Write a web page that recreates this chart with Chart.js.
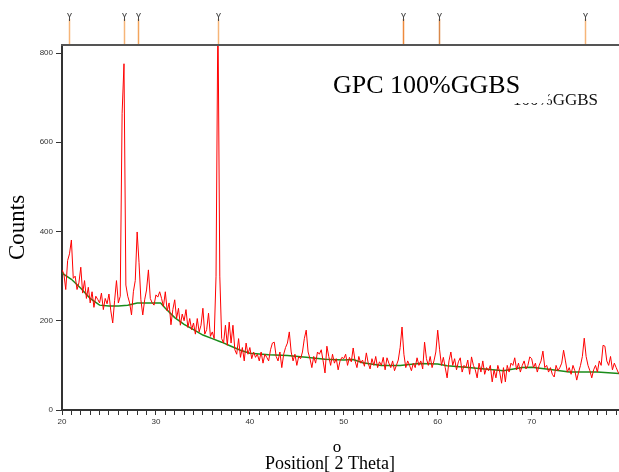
<!DOCTYPE html>
<html>
<head>
<meta charset="utf-8">
<script src="https://cdn.jsdelivr.net/npm/chart.js@4.4.0/dist/chart.umd.min.js"></script>
<style>
html, body { margin: 0; padding: 0; background: #fff; }
#wrap { width: 619px; height: 472px; position: relative; }
</style>
</head>
<body>
<div id="wrap"><canvas id="chart1"></canvas></div>
<script>
// scan grid (2 theta)
var thetaStart = 20;
var thetaStep = 0.2;

// measured counts, one row = 2 degrees
var counts = [
    314, 305, 270, 335, 350, 381, 295, 300, 270, 285,   // 20
    320, 262, 290, 250, 275, 240, 265, 230, 255, 248,   // 22
    240, 262, 225, 250, 238, 260, 222, 195, 245, 290,   // 24
    240, 255, 665, 776, 280, 255, 240, 213, 265, 290,   // 26
    399, 330, 247, 213, 247, 269, 314, 250, 240, 235,   // 28
    258, 253, 265, 250, 232, 265, 222, 240, 191, 225,   // 30
    247, 205, 228, 190, 215, 200, 225, 185, 205, 180,   // 32
    195, 170, 205, 175, 190, 228, 170, 180, 217, 165,   // 34
    175, 160, 300, 900, 300, 160, 150, 190, 145, 197,   // 36
    150, 190, 135, 125, 160, 118, 140, 110, 150, 125,   // 38
    140, 115, 130, 118, 125, 110, 130, 105, 125, 118,   // 40
    110, 135, 150, 152, 120, 110, 130, 95, 125, 140,    // 42
    150, 175, 130, 110, 125, 100, 120, 115, 130, 160,   // 44
    179, 130, 115, 95, 120, 105, 130, 125, 135, 110,    // 46
    83, 143, 120, 100, 125, 105, 115, 90, 110, 118,     // 48
    115, 125, 100, 118, 108, 139, 110, 95, 120, 105,    // 50
    112, 98, 128, 105, 92, 115, 100, 120, 95, 108,      // 52
    100, 118, 90, 117, 105, 95, 110, 88, 100, 112,      // 54
    140, 186, 125, 95, 110, 100, 88, 105, 95, 117,      // 56
    100, 110, 92, 152, 115, 100, 120, 95, 110, 130,     // 58
    179, 135, 100, 118, 95, 72, 110, 130, 100, 115,     // 60
    90, 108, 117, 85, 100, 95, 112, 80, 119, 100,       // 62
    90, 72, 105, 85, 110, 80, 95, 88, 100, 63,          // 64
    90, 72, 100, 85, 60, 95, 63, 100, 85, 105,          // 66
    100, 117, 90, 105, 85, 100, 110, 92, 100, 119,      // 68
    115, 95, 105, 85, 100, 110, 132, 95, 100, 85,       // 70
    95, 80, 74, 100, 88, 95, 105, 134, 110, 85,         // 72
    95, 80, 100, 88, 67, 85, 100, 120, 161, 120,        // 74
    100, 88, 72, 90, 100, 85, 110, 100, 145, 143,       // 76
    110, 100, 120, 90, 105, 95, 85, 78                  // 78
];

// fitted background
var bgPos    = [20, 21, 22, 23, 24, 25, 26, 27, 28, 29, 30.5, 31, 32, 33, 34, 35, 36, 37, 38, 39, 40, 42, 44, 46, 48, 50, 51, 52, 54, 56, 58, 60, 61, 63, 65, 67, 69, 70, 72, 74, 77, 79.3];
var bgCounts = [307, 293, 273, 250, 235, 233, 233, 235, 240, 240, 240, 228, 207, 192, 180, 168, 160, 152, 143, 134, 127, 124, 122, 118, 114, 112, 113, 106, 100, 100, 104, 103, 99, 96, 92, 88, 95, 96, 91, 85, 85, 82];

// reference pattern stick positions
var refPos = [20.75, 26.65, 28.1, 36.6, 56.3, 60.1, 75.7];
var refColors = ['#f6b578', '#f6b578', '#f3a45c', '#f6b578', '#ee8a3c', '#d8884a', '#f6b578'];

var yTicks = [0, 200, 400, 600, 800];

var scanData = counts.map(function(c, i) {
    return { x: thetaStart + i * thetaStep, y: c };
});
var bgData = bgPos.map(function(p, i) {
    return { x: p, y: bgCounts[i] };
});

var extras = {
    id: 'extras',
    afterDraw: function(chart) {
        var ctx = chart.ctx;
        var area = chart.chartArea;
        var xs = chart.scales.x;
        ctx.save();

        // top frame line
        ctx.strokeStyle = '#555';
        ctx.lineWidth = 2;
        ctx.beginPath();
        ctx.moveTo(area.left - 1, area.top);
        ctx.lineTo(area.right, area.top);
        ctx.stroke();

        // reference sticks
        refPos.forEach(function(p, i) {
            var px = Math.round(xs.getPixelForValue(p)) + 0.5;
            ctx.strokeStyle = refColors[i];
            ctx.lineWidth = 1.5;
            ctx.beginPath();
            ctx.moveTo(px, 19);
            ctx.lineTo(px, area.top - 1);
            ctx.stroke();
            ctx.strokeStyle = '#444';
            ctx.lineWidth = 1;
            ctx.beginPath();
            ctx.moveTo(px - 2, 13);
            ctx.lineTo(px, 17);
            ctx.lineTo(px + 2, 13);
            ctx.moveTo(px, 17);
            ctx.lineTo(px, 21);
            ctx.stroke();
        });

        // sample label (with the older one peeking below)
        ctx.fillStyle = '#111';
        ctx.textBaseline = 'alphabetic';
        ctx.textAlign = 'right';
        ctx.font = '17px "Liberation Serif"';
        ctx.fillText('100%GGBS', 598, 105);
        ctx.fillStyle = '#fff';
        ctx.fillRect(330, 60, 218, 43);
        ctx.fillStyle = '#000';
        ctx.textAlign = 'left';
        ctx.font = '26px "Liberation Serif"';
        ctx.fillText('GPC 100%GGBS', 333, 93);

        // x axis title
        ctx.font = '18px "Liberation Serif"';
        ctx.textAlign = 'center';
        var xt = 'Position[ 2 Theta]';
        ctx.fillText(xt, 330, 469);
        var start = 330 - ctx.measureText(xt).width / 2;
        var oX = start + ctx.measureText('Position[ ').width + ctx.measureText('2').width / 2 - 2;
        ctx.font = '17px "Liberation Serif"';
        ctx.fillText('o', oX, 452);
        ctx.restore();
    }
};

var ctx = document.getElementById('chart1').getContext('2d');
var myChart = new Chart(ctx, {
    type: 'line',
    data: {
        datasets: [{
            label: 'Scan',
            data: scanData,
            borderColor: '#ff0000',
            borderWidth: 1,
            pointRadius: 0,
            tension: 0,
            fill: false
        },
        {
            label: 'Background',
            data: bgData,
            borderColor: '#1a8c1a',
            borderWidth: 1.5,
            pointRadius: 0,
            tension: 0,
            fill: false
        }]
    },
    options: {
        responsive: true,
        maintainAspectRatio: false,
        animation: false,
        layout: {
            padding: { top: 45, right: 0, left: 0, bottom: 0 }
        },
        plugins: {
            legend: { display: false },
            tooltip: { enabled: false }
        },
        scales: {
            x: {
                type: 'linear',
                min: 20,
                max: 79.3,
                afterFit: function(s) { s.height = 62; },
                border: { display: true, color: '#333', width: 2 },
                grid: {
                    drawOnChartArea: false,
                    drawTicks: true,
                    tickLength: 5,
                    color: '#333'
                },
                ticks: {
                    stepSize: 1,
                    includeBounds: false,
                    autoSkip: false,
                    maxRotation: 0,
                    padding: 2,
                    color: '#333',
                    font: { family: 'Liberation Sans', size: 8 },
                    callback: function(v) { return v % 10 === 0 ? v : ''; }
                }
            },
            y: {
                min: 0,
                max: 818,
                afterFit: function(s) { s.width = 62; },
                afterBuildTicks: function(s) {
                    s.ticks = yTicks.map(function(v) { return { value: v }; });
                },
                border: { display: true, color: '#333', width: 2 },
                grid: {
                    drawOnChartArea: false,
                    drawTicks: true,
                    tickLength: 6,
                    color: '#333'
                },
                ticks: {
                    padding: 3,
                    color: '#333',
                    font: { family: 'Liberation Sans', size: 8 }
                },
                title: {
                    display: true,
                    text: 'Counts',
                    color: '#000',
                    font: { family: 'Liberation Serif', size: 23 },
                    padding: { top: 4, bottom: 0 }
                }
            }
        }
    },
    plugins: [extras]
});
</script>
</body>
</html>
